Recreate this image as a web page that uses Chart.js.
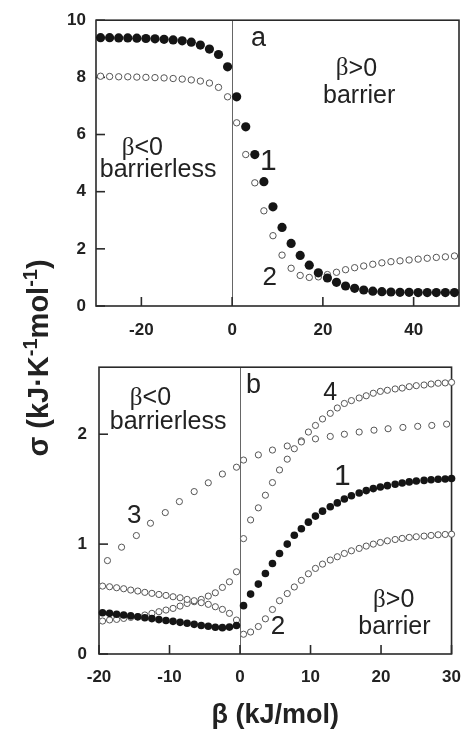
<!DOCTYPE html>
<html><head><meta charset="utf-8">
<script src="https://cdn.jsdelivr.net/npm/chart.js@4.4.0/dist/chart.umd.min.js"></script>
<style>
html,body{margin:0;padding:0;background:#fff;}
#wrap{position:relative;width:474px;height:730px;overflow:hidden;background:#fff;}
#ca{position:absolute;left:0;top:0;width:474px;height:345px;}
#cb{position:absolute;left:0;top:345px;width:474px;height:385px;}
#ytitle{position:absolute;left:-92px;top:342px;width:260px;height:32px;line-height:32px;text-align:center;transform:rotate(-90deg);font:bold 29px "Liberation Sans",Arial,sans-serif;color:#222;white-space:nowrap;}
#ytitle sup{font-size:20px;line-height:0;vertical-align:0.55em;}
</style></head>
<body><div id="wrap">
<canvas id="ca" width="474" height="345"></canvas>
<canvas id="cb" width="474" height="385"></canvas>
<div id="ytitle">σ (kJ·K<sup>-1</sup>mol<sup>-1</sup>)</div>
</div>
<script>
// ---------- Panel a data ----------
const xA = [-29,-27,-25,-23,-21,-19,-17,-15,-13,-11,-9,-7,-5,-3,-1,1,3,5,7,9,11,13,15,17,19,21,23,25,27,29,31,33,35,37,39,41,43,45,47,49];
const a1 = [9.39,9.39,9.38,9.38,9.37,9.36,9.35,9.33,9.31,9.28,9.23,9.13,8.99,8.80,8.37,7.32,6.27,5.30,4.35,3.47,2.75,2.19,1.77,1.43,1.16,0.98,0.83,0.70,0.62,0.56,0.52,0.50,0.49,0.48,0.48,0.47,0.47,0.47,0.47,0.47];
const a2 = [8.04,8.03,8.02,8.02,8.01,8.00,7.99,7.98,7.96,7.94,7.91,7.87,7.80,7.65,7.32,6.41,5.30,4.31,3.33,2.46,1.78,1.32,1.07,1.00,1.02,1.10,1.18,1.27,1.34,1.40,1.46,1.51,1.55,1.58,1.61,1.64,1.67,1.70,1.72,1.75];
const xTicksA = [-20,0,20,40];
const yTicksA = [0,2,4,6,8,10];

// ---------- Panel b data ----------
const xBneg = [-19.5,-18.5,-17.5,-16.5,-15.5,-14.5,-13.5,-12.5,-11.5,-10.5,-9.5,-8.5,-7.5,-6.5,-5.5,-4.5,-3.5,-2.5,-1.5,-0.5];
const xBpos = [0.5,1.5,2.6,3.6,4.6,5.6,6.7,7.7,8.7,9.7,10.7,11.7,12.8,13.8,14.8,15.8,16.9,17.9,18.9,19.9,20.9,22,23,24,25,26.1,27.1,28.1,29.1,30];
const b1Neg = [0.375,0.37,0.362,0.355,0.347,0.338,0.33,0.322,0.313,0.305,0.297,0.288,0.28,0.27,0.26,0.252,0.243,0.24,0.245,0.26];
const b1Pos = [0.44,0.545,0.636,0.733,0.824,0.915,1.0,1.08,1.14,1.2,1.255,1.3,1.34,1.375,1.41,1.44,1.465,1.487,1.505,1.52,1.532,1.545,1.556,1.566,1.575,1.58,1.586,1.59,1.593,1.597];
const b2Neg = [0.618,0.612,0.603,0.594,0.582,0.573,0.561,0.552,0.542,0.533,0.521,0.512,0.497,0.485,0.467,0.452,0.43,0.406,0.37,0.309];
const b2Pos = [0.18,0.20,0.25,0.32,0.405,0.485,0.55,0.61,0.67,0.73,0.779,0.818,0.855,0.885,0.915,0.939,0.961,0.982,1.0,1.015,1.03,1.042,1.052,1.061,1.067,1.073,1.079,1.085,1.088,1.09];
const b4Neg = [0.30,0.31,0.315,0.324,0.333,0.339,0.355,0.37,0.385,0.40,0.415,0.436,0.46,0.476,0.497,0.527,0.557,0.606,0.657,0.748];
const b4Pos = [1.05,1.22,1.33,1.445,1.56,1.675,1.773,1.868,1.94,2.02,2.08,2.139,2.19,2.239,2.28,2.306,2.33,2.35,2.373,2.39,2.40,2.412,2.42,2.433,2.442,2.448,2.457,2.464,2.467,2.472];
const xB3 = [-18.8,-16.8,-14.7,-12.7,-10.6,-8.6,-6.5,-4.5,-2.5,-0.5,0.5,2.6,4.6,6.7,8.7,10.7,12.8,14.8,16.9,19,21,23.1,25.2,27.2,29.3];
const b3 = [0.85,0.972,1.078,1.19,1.287,1.387,1.478,1.558,1.638,1.70,1.765,1.812,1.856,1.893,1.93,1.958,1.98,2.0,2.02,2.037,2.05,2.062,2.072,2.08,2.092];
const xTicksB = [-20,-10,0,10,20,30];
const yTicksB = [0,1,2];

// ---------- annotations (text, data x, data y, font px) ----------
const notesA = [
  ['a', 5.8, 9.37, 27],
  ['β>0', 27.4, 8.3, 25], ['barrier', 28.0, 7.36, 25],
  ['β<0', -19.8, 5.52, 25], ['barrierless', -16.3, 4.74, 25],
  ['1', 8.0, 5.05, 30], ['2', 8.3, 0.98, 26]
];
const notesB = [
  ['b', 1.9, 2.44, 27], ['4', 12.8, 2.37, 25],
  ['β<0', -12.7, 2.33, 25], ['barrierless', -10.2, 2.11, 25],
  ['3', -15.0, 1.26, 26], ['1', 14.5, 1.61, 30], ['2', 5.4, 0.245, 26],
  ['β>0', 21.8, 0.49, 25], ['barrier', 21.9, 0.245, 25]
];

const FONT = '"Liberation Sans", Arial, sans-serif';
const SERIF = '"Liberation Serif", "Times New Roman", serif';
const mk = (xs, ys) => xs.map((x, i) => ({x: x, y: ys[i]}));

function drawNote(ctx, text, px, py, size) {
  if (text.charAt(0) === 'β') {
    const rest = text.slice(1);
    ctx.font = size + 'px ' + SERIF;
    const w1 = ctx.measureText('β').width;
    ctx.font = size + 'px ' + FONT;
    const w2 = ctx.measureText(rest).width;
    let x = px - (w1 + w2) / 2;
    ctx.textAlign = 'left';
    ctx.font = size + 'px ' + SERIF;
    ctx.fillText('β', x, py);
    ctx.font = size + 'px ' + FONT;
    ctx.fillText(rest, x + w1, py);
  } else {
    ctx.textAlign = 'center';
    ctx.font = size + 'px ' + FONT;
    ctx.fillText(text, px, py);
  }
}

function framePlugin(notes, tickLen) {
  return {
    id: 'frame',
    beforeDatasetsDraw(chart) {
      const ctx = chart.ctx, a = chart.chartArea, x = chart.scales.x, y = chart.scales.y;
      ctx.save();
      const x0 = Math.round(x.getPixelForValue(0)) + 0.5;
      ctx.strokeStyle = '#666'; ctx.lineWidth = 1;
      ctx.beginPath(); ctx.moveTo(x0, a.top); ctx.lineTo(x0, a.bottom); ctx.stroke();
      ctx.strokeStyle = '#2a2a2a'; ctx.lineWidth = 1.6;
      ctx.strokeRect(a.left, a.top, a.right - a.left, a.bottom - a.top);
      x.ticks.forEach(t => { const p = x.getPixelForValue(t.value); ctx.beginPath(); ctx.moveTo(p, a.bottom); ctx.lineTo(p, a.bottom - tickLen); ctx.stroke(); });
      y.ticks.forEach(t => { const p = y.getPixelForValue(t.value); ctx.beginPath(); ctx.moveTo(a.left, p); ctx.lineTo(a.left + tickLen, p); ctx.stroke(); });
      ctx.restore();
    },
    afterDatasetsDraw(chart) {
      const ctx = chart.ctx, x = chart.scales.x, y = chart.scales.y;
      ctx.save(); ctx.fillStyle = '#222'; ctx.textBaseline = 'middle';
      notes.forEach(n => drawNote(ctx, n[0], x.getPixelForValue(n[1]), y.getPixelForValue(n[2]), n[3]));
      ctx.restore();
    }
  };
}

function tickFont() { return {family: FONT, size: 17, weight: 'bold'}; }

const filled = (data, r) => ({data, showLine: false, pointRadius: r, pointHoverRadius: r, pointBackgroundColor: '#151515', pointBorderColor: '#151515', pointBorderWidth: 0, clip: false});
const open = (data, r) => ({data, showLine: false, pointRadius: r, pointHoverRadius: r, pointBackgroundColor: '#fff', pointBorderColor: '#555', pointBorderWidth: 1, clip: false});

new Chart(document.getElementById('ca'), {
  type: 'scatter',
  data: { datasets: [ filled(mk(xA, a1), 4.6), open(mk(xA, a2), 3.2) ] },
  options: {
    responsive: false, animation: false, events: [],
    layout: { padding: {left: 0, right: 15, top: 20, bottom: 0} },
    plugins: { legend: {display: false}, tooltip: {enabled: false} },
    scales: {
      x: { type: 'linear', min: -30, max: 50,
        afterBuildTicks: s => { s.ticks = xTicksA.map(v => ({value: v})); },
        afterFit: s => { s.height = 39; },
        grid: {display: false, drawTicks: false}, border: {display: false},
        ticks: {padding: 14, color: '#222', font: tickFont(), maxRotation: 0, autoSkip: false} },
      y: { type: 'linear', min: 0, max: 10,
        afterBuildTicks: s => { s.ticks = yTicksA.map(v => ({value: v})); },
        afterFit: s => { s.width = 96; },
        grid: {display: false, drawTicks: false}, border: {display: false},
        ticks: {padding: 10, color: '#222', font: tickFont(), autoSkip: false} }
    }
  },
  plugins: [framePlugin(notesA, 9)]
});

new Chart(document.getElementById('cb'), {
  type: 'scatter',
  data: { datasets: [
    filled(mk(xBneg.concat(xBpos), b1Neg.concat(b1Pos)), 3.8),
    open(mk(xBneg.concat(xBpos), b2Neg.concat(b2Pos)), 3.1),
    open(mk(xB3, b3), 3.1),
    open(mk(xBneg.concat(xBpos), b4Neg.concat(b4Pos)), 3.1)
  ] },
  options: {
    responsive: false, animation: false, events: [],
    layout: { padding: {left: 0, right: 12, top: 22, bottom: 0} },
    plugins: { legend: {display: false}, tooltip: {enabled: false} },
    scales: {
      x: { type: 'linear', min: -20, max: 30,
        afterBuildTicks: s => { s.ticks = xTicksB.map(v => ({value: v})); },
        afterFit: s => { s.height = 76; },
        grid: {display: false, drawTicks: false}, border: {display: false},
        title: {display: true, text: 'β (kJ/mol)', color: '#222', font: {family: FONT, size: 27, weight: 'bold', lineHeight: 1.1}, padding: {top: 0, bottom: 0}},
        ticks: {padding: 13, color: '#222', font: tickFont(), maxRotation: 0, autoSkip: false} },
      y: { type: 'linear', min: 0, max: 2.61,
        afterBuildTicks: s => { s.ticks = yTicksB.map(v => ({value: v})); },
        afterFit: s => { s.width = 99; },
        grid: {display: false, drawTicks: false}, border: {display: false},
        ticks: {padding: 12, color: '#222', font: tickFont(), autoSkip: false} }
    }
  },
  plugins: [framePlugin(notesB, 9)]
});
</script>
</body></html>
